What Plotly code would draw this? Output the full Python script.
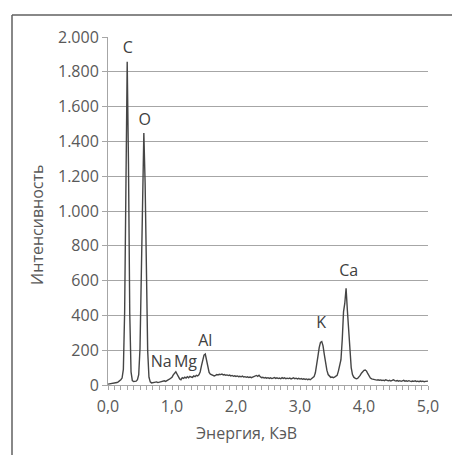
import plotly.graph_objects as go

# Energy grid (keV)
energy = [
    0.00, 0.02, 0.04, 0.06, 0.08, 0.10, 0.12, 0.14, 0.16, 0.18,
    0.20, 0.22, 0.24, 0.26, 0.28, 0.30, 0.32, 0.34, 0.36, 0.38,
    0.40, 0.42, 0.44, 0.46, 0.48, 0.50, 0.52, 0.54, 0.56, 0.58,
    0.60, 0.62, 0.64, 0.66, 0.68, 0.70, 0.72, 0.74, 0.76, 0.78,
    0.80, 0.82, 0.84, 0.86, 0.88, 0.90, 0.92, 0.94, 0.96, 0.98,
    1.00, 1.02, 1.04, 1.06, 1.08, 1.10, 1.12, 1.14, 1.16, 1.18,
    1.20, 1.22, 1.24, 1.26, 1.28, 1.30, 1.32, 1.34, 1.36, 1.38,
    1.40, 1.42, 1.44, 1.46, 1.48, 1.50, 1.52, 1.54, 1.56, 1.58,
    1.60, 1.62, 1.64, 1.66, 1.68, 1.70, 1.72, 1.74, 1.76, 1.78,
    1.80, 1.82, 1.84, 1.86, 1.88, 1.90, 1.92, 1.94, 1.96, 1.98,
    2.00, 2.02, 2.04, 2.06, 2.08, 2.10, 2.12, 2.14, 2.16, 2.18,
    2.20, 2.22, 2.24, 2.26, 2.28, 2.30, 2.32, 2.34, 2.36, 2.38,
    2.40, 2.42, 2.44, 2.46, 2.48, 2.50, 2.52, 2.54, 2.56, 2.58,
    2.60, 2.62, 2.64, 2.66, 2.68, 2.70, 2.72, 2.74, 2.76, 2.78,
    2.80, 2.82, 2.84, 2.86, 2.88, 2.90, 2.92, 2.94, 2.96, 2.98,
    3.00, 3.02, 3.04, 3.06, 3.08, 3.10, 3.12, 3.14, 3.16, 3.18,
    3.20, 3.22, 3.24, 3.26, 3.28, 3.30, 3.32, 3.34, 3.36, 3.38,
    3.40, 3.42, 3.44, 3.46, 3.48, 3.50, 3.52, 3.54, 3.56, 3.58,
    3.60, 3.62, 3.64, 3.66, 3.68, 3.70, 3.72, 3.74, 3.76, 3.78,
    3.80, 3.82, 3.84, 3.86, 3.88, 3.90, 3.92, 3.94, 3.96, 3.98,
    4.00, 4.02, 4.04, 4.06, 4.08, 4.10, 4.12, 4.14, 4.16, 4.18,
    4.20, 4.22, 4.24, 4.26, 4.28, 4.30, 4.32, 4.34, 4.36, 4.38,
    4.40, 4.42, 4.44, 4.46, 4.48, 4.50, 4.52, 4.54, 4.56, 4.58,
    4.60, 4.62, 4.64, 4.66, 4.68, 4.70, 4.72, 4.74, 4.76, 4.78,
    4.80, 4.82, 4.84, 4.86, 4.88, 4.90, 4.92, 4.94, 4.96, 4.98,
    5.00,
]

# Intensity (counts)
intensity = [
    5, 6, 8, 10, 9, 12, 11, 14, 18, 22,
    30, 40, 90, 420, 1270, 1858, 1270, 410, 75, 25,
    20, 19, 22, 30, 60, 210, 594, 1160, 1448, 1160,
    594, 196, 45, 18, 12, 13, 12, 15, 18, 14,
    16, 20, 18, 22, 24, 21, 27, 30, 33, 38,
    45, 58, 70, 76, 62, 48, 35, 30, 42, 38,
    45, 40, 48, 42, 50, 46, 44, 52, 48, 55,
    52, 58, 75, 110, 150, 172, 178, 140, 95, 72,
    62, 58, 55, 52, 55, 60, 58, 62, 60, 63,
    58, 60, 56, 58, 54, 57, 52, 55, 50, 53,
    49, 52, 48, 50, 47, 51, 46, 48, 44, 47,
    43, 46, 42, 45, 48, 52, 55, 50, 56, 47,
    42, 44, 40, 43, 39, 42, 38, 41, 37, 40,
    43, 38, 41, 37, 40, 36, 42, 38, 41, 36,
    39, 37, 40, 35, 38, 41, 36, 39, 35, 38,
    34, 37, 33, 36, 32, 35, 31, 34, 30, 36,
    40, 48, 70, 110, 165, 215, 245, 250, 225, 175,
    125, 85, 60, 50, 44, 46, 42, 45, 48, 55,
    80, 125, 145, 260, 420, 470, 556, 430, 300, 180,
    100, 60, 45, 40, 36, 38, 45, 55, 68, 78,
    84, 86, 80, 65, 50, 40, 35, 33, 30, 32,
    28, 30, 27, 29, 26, 28, 25, 30, 26, 24,
    27, 23, 26, 30, 25, 23, 26, 22, 25, 21,
    24, 27, 22, 24, 21, 25, 22, 20, 23, 21,
    24, 20, 22, 19, 23, 20, 22, 19, 21, 20,
    22,
]

# Peak labels
peak_names = ["C", "O", "Na", "Mg", "Al", "K", "Ca"]
peak_label_x = [0.31, 0.575, 0.83, 1.21, 1.52, 3.33, 3.76]
peak_label_y = [1931, 1515, 128, 128, 246, 351, 648]

x_tickvals = [0, 1, 2, 3, 4, 5]
x_ticktext = ["0,0", "1,0", "2,0", "3,0", "4,0", "5,0"]
y_tickvals = [0, 200, 400, 600, 800, 1000, 1200, 1400, 1600, 1800, 2000]
y_ticktext = ["0", "200", "400", "600", "800", "1.000", "1.200", "1.400",
              "1.600", "1.800", "2.000"]
x_title = "Энергия, КэВ"
y_title = "Интенсивность"

FONT = "Open Sans"
TXT = "#595959"

fig = go.Figure()
fig.add_trace(go.Scatter(
    x=energy, y=intensity, mode="lines",
    line=dict(color="#454545", width=1.4),
    showlegend=False, hoverinfo="skip",
))
fig.add_trace(go.Scatter(
    x=peak_label_x, y=peak_label_y, mode="text", text=peak_names,
    textfont=dict(family=FONT, size=16, color="#404040"),
    showlegend=False, hoverinfo="skip",
))

fig.update_layout(
    width=452, height=455,
    margin=dict(l=108, r=24, t=37, b=70, autoexpand=False),
    paper_bgcolor="white", plot_bgcolor="white",
    font=dict(family=FONT, size=16, color=TXT),
    shapes=[
        dict(type="line", xref="paper", yref="paper",
             x0=-0.3, x1=-0.3, y0=-0.3, y1=1.063,
             line=dict(color="#606060", width=1.5), layer="below"),
        dict(type="line", xref="paper", yref="paper",
             x0=-0.3, x1=1.2, y0=1.063, y1=1.063,
             line=dict(color="#606060", width=1.5), layer="below"),
    ],
    annotations=[
        dict(text=y_title, xref="paper", yref="paper", x=-0.222, y=0.46,
             textangle=-90, showarrow=False, xanchor="center", yanchor="middle",
             font=dict(family=FONT, size=16, color=TXT)),
        dict(text=x_title, xref="paper", yref="paper", x=0.433, y=-0.138,
             showarrow=False, xanchor="center", yanchor="middle",
             font=dict(family=FONT, size=16, color=TXT)),
    ],
)
fig.update_xaxes(
    range=[0, 5], tickvals=x_tickvals, ticktext=x_ticktext,
    showgrid=False, showline=True, linecolor="#a6a6a6", linewidth=1,
    ticks="outside", ticklen=4, tickcolor="#a6a6a6",
    minor=dict(dtick=0.1, ticks="outside", ticklen=4, tickcolor="#a6a6a6"),
    tickfont=dict(size=16, color=TXT), zeroline=False,
    ticklabelstandoff=3, automargin=False,
)
fig.update_yaxes(
    range=[0, 2000], tickvals=y_tickvals, ticktext=y_ticktext,
    showgrid=True, gridcolor="#a6a6a6", gridwidth=1,
    showline=True, linecolor="#a6a6a6", linewidth=1,
    ticks="outside", ticklen=5, tickcolor="#a6a6a6",
    tickfont=dict(size=16, color=TXT), zeroline=False, automargin=False,
)

fig.write_html(
    "out.html",
    config={"displayModeBar": False},
    post_script="document.body.style.margin='0';document.body.style.overflow='hidden';",
)
